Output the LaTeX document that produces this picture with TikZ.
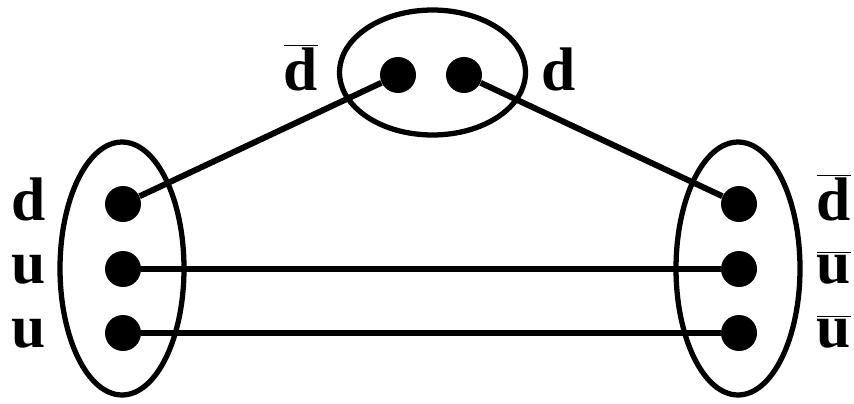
\documentclass[tikz,border=0pt]{standalone}
\usepackage{fontspec}
\setmainfont{Liberation Serif}
\usetikzlibrary{shapes.geometric}
\newcommand{\antiq}[1]{$\overline{\hbox{#1}}$}
\tikzset{
	quark/.style = {circle, fill, inner sep = 0pt, minimum size = 0.72cm},
	bag/.style = {ellipse, draw, line width = 3pt, inner sep = 0pt},
	flav/.style = {anchor = base, font = \fontsize{35}{40}\selectfont\bfseries},
	string/.style = {line width = 3.4pt}
}
\begin{document}
\begin{tikzpicture}[x = 0.02cm, y = -0.02cm]
	\useasboundingbox (0,0) rectangle (854,403);
	% hadron bags
	\node [bag, minimum width = 2.48cm, minimum height = 5.06cm] (baryon) at (122,268.5) {};
	\node [bag, minimum width = 2.48cm, minimum height = 5.06cm] (antibaryon) at (738,268.5) {};
	\node [bag, minimum width = 3.72cm, minimum height = 2.50cm] (meson) at (432.5,72.5) {};
	% quarks
	\node [quark] (b1) at (123,204) {};
	\node [quark] (b2) at (123,269) {};
	\node [quark] (b3) at (123,333) {};
	\node [quark] (a1) at (739,204) {};
	\node [quark] (a2) at (739,269) {};
	\node [quark] (a3) at (739,333) {};
	\node [quark] (m1) at (398,75) {};
	\node [quark] (m2) at (464,75) {};
	% strings
	\draw [string] (m1) -- (b1);
	\draw [string] (m2) -- (a1);
	\draw [string] (b2) -- (a2);
	\draw [string] (b3) -- (a3);
	% labels
	\node [flav] (lb1) at (29,220) {d};
	\node [flav] (lb2) at (29,283) {u};
	\node [flav] (lb3) at (29,347) {u};
	\node [flav] (la1) at (834,220) {\antiq{d}};
	\node [flav] (la2) at (834,283) {\antiq{u}};
	\node [flav] (la3) at (834,347) {\antiq{u}};
	\node [flav] (lm1) at (301,90) {\antiq{d}};
	\node [flav] (lm2) at (559,90) {d};
\end{tikzpicture}
\end{document}
